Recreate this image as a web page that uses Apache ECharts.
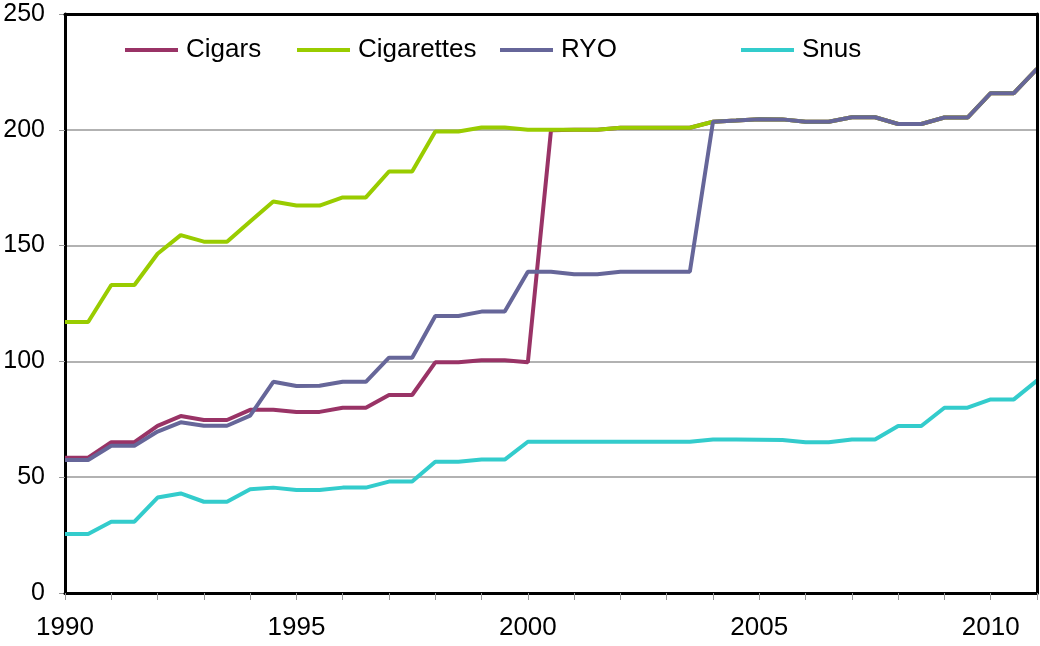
<!DOCTYPE html>
<html>
<head>
<meta charset="utf-8">
<script src="https://cdn.jsdelivr.net/npm/echarts@6/dist/echarts.min.js"></script>
<style>
  html, body { margin: 0; padding: 0; background: #fff; }
  #chart { width: 1040px; height: 646px; }
</style>
</head>
<body>
<div id="chart"></div>
<script>
// half-year steps, 1990 .. 2011
const years = [
  1990, 1990.5, 1991, 1991.5, 1992, 1992.5, 1993, 1993.5, 1994, 1994.5,
  1995, 1995.5, 1996, 1996.5, 1997, 1997.5, 1998, 1998.5, 1999, 1999.5,
  2000, 2000.5, 2001, 2001.5, 2002, 2002.5, 2003, 2003.5, 2004, 2004.5,
  2005, 2005.5, 2006, 2006.5, 2007, 2007.5, 2008, 2008.5, 2009, 2009.5,
  2010, 2010.5, 2011
];

const cigars = [
  58.4, 58.4, 65.1, 65.1, 72.2, 76.4, 74.7, 74.7, 79.1, 79.1,
  78.2, 78.2, 80, 80, 85.5, 85.5, 99.6, 99.6, 100.5, 100.5,
  99.6, 199.8, 200, 200, 200.9, 200.9, 200.9, 200.9, 203.5, 204,
  204.6, 204.5, 203.5, 203.5, 205.4, 205.4, 202.5, 202.5, 205.3, 205.3,
  215.8, 215.8, 226.3
];

const cigarettes = [
  117, 117, 133, 133, 146.5, 154.5, 151.7, 151.7, 160.4, 169,
  167.3, 167.3, 170.8, 170.8, 182, 182, 199.3, 199.3, 201, 201,
  200, 200, 200, 200, 200.9, 200.9, 200.9, 200.9, 203.5, 204,
  204.6, 204.5, 203.5, 203.5, 205.4, 205.4, 202.5, 202.5, 205.3, 205.3,
  215.8, 215.8, 226.3
];

const ryo = [
  57.4, 57.4, 63.6, 63.6, 69.7, 73.7, 72.2, 72.2, 76.6, 91.2,
  89.4, 89.5, 91.2, 91.2, 101.6, 101.6, 119.6, 119.6, 121.5, 121.5,
  138.7, 138.7, 137.6, 137.6, 138.7, 138.7, 138.7, 138.7, 203.5, 204,
  204.6, 204.5, 203.5, 203.5, 205.4, 205.4, 202.5, 202.5, 205.3, 205.3,
  215.8, 215.8, 226.3
];

const snus = [
  25.5, 25.5, 30.8, 30.8, 41.2, 43, 39.4, 39.4, 44.8, 45.5,
  44.5, 44.5, 45.5, 45.5, 48.1, 48.1, 56.7, 56.7, 57.6, 57.6,
  65.3, 65.3, 65.3, 65.3, 65.3, 65.3, 65.3, 65.3, 66.3, 66.3,
  66.2, 66.1, 65.1, 65.1, 66.3, 66.3, 72.1, 72.1, 80, 80,
  83.6, 83.6, 91.7
];

const names = ["Cigars", "Cigarettes", "RYO", "Snus"];
const colors = ["#993366", "#99cc00", "#666699", "#33cccc"];
const values = [cigars, cigarettes, ryo, snus];
const legendLeft = [125, 297, 500, 741];

const font = "'Liberation Sans', Arial, sans-serif";
const frame = { color: "#000", width: 3 };

const chart = echarts.init(document.getElementById("chart"));

const option = {
  animation: false,
  backgroundColor: "#fff",
  grid: {
    left: 65,
    right: 2,
    top: 14,
    bottom: 53,
  },
  legend: names.map((name, i) => ({
    data: [name],
    left: legendLeft[i],
    top: 37,
    padding: 0,
    icon: "rect",
    itemWidth: 53,
    itemHeight: 4,
    textStyle: {
      fontFamily: font,
      fontSize: 26,
      color: "#000",
      padding: [0, 0, 0, 3],
    },
  })),
  xAxis: [
    {
      type: "value",
      min: 1990,
      max: 2011,
      interval: 1,
      z: 5,
      axisLine: { onZero: false, lineStyle: frame },
      axisTick: { length: 7, lineStyle: { color: "#999", width: 1 } },
      splitLine: { show: false },
      axisLabel: {
        fontFamily: font,
        fontSize: 26,
        color: "#000",
        margin: 22,
        formatter: function (value) {
          return value % 5 === 0 ? String(value) : "";
        },
      },
    },
    {
      // top frame line
      type: "value",
      position: "top",
      min: 1990,
      max: 2011,
      z: 5,
      axisLine: { show: true, onZero: false, lineStyle: frame },
      axisTick: { show: false },
      axisLabel: { show: false },
      splitLine: { show: false },
    },
  ],
  yAxis: [
    {
      type: "value",
      min: 0,
      max: 250,
      interval: 50,
      axisLine: { show: true, onZero: false, lineStyle: frame },
      axisTick: { show: true, length: 6, lineStyle: { color: "#999", width: 1 } },
      splitLine: {
        interval: function (index, value) {
          return value > 0 && value < 250;
        },
        lineStyle: { color: "#999", width: 1.5 },
      },
      axisLabel: {
        fontFamily: font,
        fontSize: 25,
        color: "#000",
        margin: 20,
      },
    },
    {
      // right frame line
      type: "value",
      position: "right",
      min: 0,
      max: 250,
      z: 5,
      axisLine: { show: true, onZero: false, lineStyle: frame },
      axisTick: { show: false },
      axisLabel: { show: false },
      splitLine: { show: false },
    },
  ],
  series: names.map((name, i) => ({
    name: name,
    type: "line",
    xAxisIndex: 0,
    yAxisIndex: 0,
    showSymbol: false,
    symbol: "none",
    color: colors[i],
    lineStyle: { color: colors[i], width: 4 },
    data: years.map((y, j) => [y, values[i][j]]),
  })),
};

chart.setOption(option);
</script>
</body>
</html>
